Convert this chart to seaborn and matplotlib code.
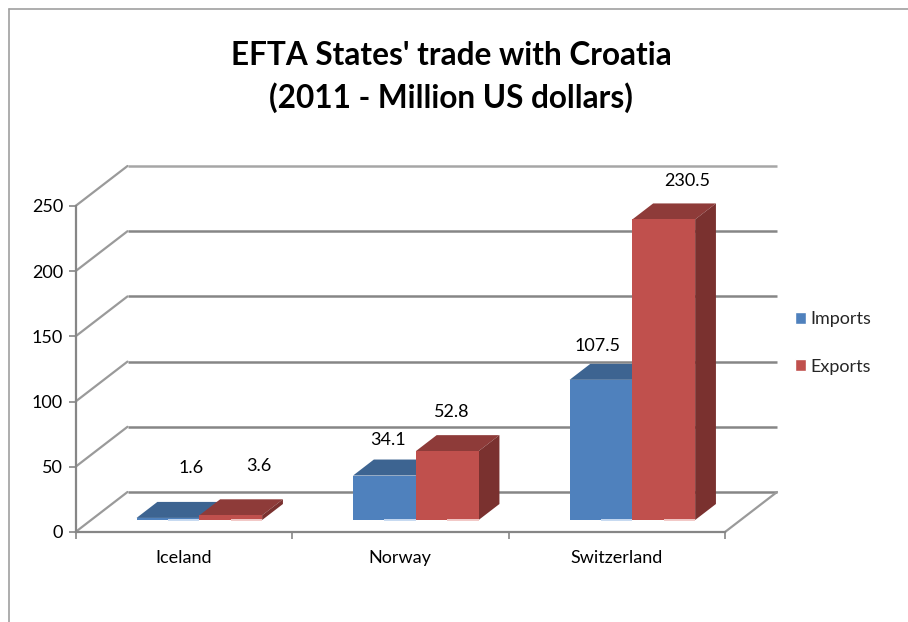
import seaborn as sns
import matplotlib.pyplot as plt
import pandas as pd
from matplotlib.lines import Line2D
from matplotlib.patches import Polygon, Patch

paises = ["Iceland", "Norway", "Switzerland"]
imports = [1.6, 34.1, 107.5]
exports = [3.6, 52.8, 230.5]
y_ticks = [0, 50, 100, 150, 200, 250]
titulo = "EFTA States' trade with Croatia\n(2011 - Million US dollars)"

W, H = 908, 622
GRIS = "#868686"
colores = {"Imports": ("#4f81bd", "#3d6491", "#c6d9f1"),
           "Exports": ("#c0504d", "#8e3b39", "#f2c8c6")}
lado_colores = {"Imports": "#345478", "Exports": "#7a312f"}

# profundidad de la pared en unidades de datos (3D falso)
PX_X = (725 - 75.5) / 3
PX_Y = (532 - 206) / 250
pared_x = 52 / PX_X
pared_y = 40 / PX_Y
frente = 0.3   # donde empieza la barra dentro del piso
fondo = 0.4    # profundidad de la barra

sns.set_theme(style="white")
plt.rcParams["font.family"] = ["Lato", "DejaVu Sans"]

fig = plt.figure(figsize=(W / 100, H / 100), dpi=100, facecolor="white")
ax = fig.add_axes([75.5 / W, 1 - 532 / H, (725 - 75.5) / W, (532 - 206) / H])

df = pd.DataFrame({
    "pais": paises * 2,
    "tipo": ["Imports"] * 3 + ["Exports"] * 3,
    "valor": imports + exports,
})
sns.barplot(data=df, x="pais", y="valor", hue="tipo", ax=ax, width=0.58, errorbar=None,
            palette={k: v[0] for k, v in colores.items()}, saturation=1, legend=False,
            linewidth=0)

ax.set_xlim(-0.5, 2.5)
ax.set_ylim(0, 250)
ax.set_xlabel("")
ax.set_ylabel("")

# paredes y lineas de fondo
for v in y_ticks:
    c = "#a6a6a6" if v == 250 else GRIS
    ax.plot([-0.5 + pared_x, 2.5 + pared_x], [v + pared_y, v + pared_y], color=c, lw=1.8,
            clip_on=False, zorder=1, solid_capstyle="butt")
    ax.plot([-0.5, -0.5 + pared_x], [v, v + pared_y], color="#9a9a9a", lw=1.6,
            clip_on=False, zorder=1)
ax.plot([2.5, 2.5 + pared_x], [0, pared_y], color="#9a9a9a", lw=1.6, clip_on=False, zorder=1)

# barras con cara superior y lateral
offsets = {"Imports": [(23, 50), (4, 36), (-3, 34)], "Exports": [(28, 49), (4, 39), (23, 38)]}
for orden, (tipo, cont) in enumerate(zip(["Imports", "Exports"], ax.containers)):
    z = 3 + orden
    color, arriba, claro = colores[tipo]
    for i, bar in enumerate(cont):
        bar.set_x(bar.get_x() + pared_x * frente)
        bar.set_y(pared_y * frente)
        bar.set_zorder(z + 0.2)
        bar.set_clip_on(False)
        x0 = bar.get_x()
        x1 = x0 + bar.get_width()
        y0 = bar.get_y()
        y1 = y0 + bar.get_height()
        dx = pared_x * fondo
        dy = pared_y * fondo
        ax.add_patch(Polygon([(x0, y1), (x1, y1), (x1 + dx, y1 + dy), (x0 + dx, y1 + dy)],
                             facecolor=arriba, edgecolor="none", clip_on=False, zorder=z))
        ax.add_patch(Polygon([(x1, y0), (x1, y1), (x1 + dx, y1 + dy), (x1 + dx, y0 + dy)],
                             facecolor=lado_colores[tipo], edgecolor="none", clip_on=False, zorder=z))
        ax.plot([(x0 + x1) / 2, x1], [y0, y0], color=claro, lw=1.4, clip_on=False,
                zorder=z + 0.3, solid_capstyle="butt")
        ax.annotate(str(bar.get_height()), ((x0 + x1) / 2, y1), xytext=offsets[tipo][i],
                    textcoords="offset pixels", ha="center", va="center", fontsize=13,
                    color="black", annotation_clip=False, zorder=6)

# ejes
sns.despine(ax=ax)
for s in ["left", "bottom"]:
    ax.spines[s].set_color(GRIS)
    ax.spines[s].set_linewidth(1.6)
ax.set_yticks(y_ticks)
ax.set_xticks([-0.5, 0.5, 1.5, 2.5])
ax.set_xticklabels([])
ax.set_xticks([0, 1, 2], labels=paises, minor=True)
ax.tick_params(axis="y", left=True, length=5, width=1.2, color=GRIS, labelsize=13, pad=4, labelcolor="black")
ax.tick_params(axis="x", which="major", bottom=True, length=5, width=1.2, color=GRIS)
ax.tick_params(axis="x", which="minor", bottom=False, length=0, labelsize=13, pad=13, labelcolor="black")

# leyenda
handles = [Patch(facecolor=colores[t][0], label=t) for t in ["Imports", "Exports"]]
fig.legend(handles=handles, loc="center left", bbox_to_anchor=(779 / W, 1 - 343 / H), frameon=False,
           fontsize=13, handlelength=0.62, handleheight=0.62, handletextpad=0.2, labelspacing=1.72)

fig.text(451 / W, 1 - 77 / H, titulo, ha="center", va="center", fontsize=22.7, fontweight="bold",
         color="black", linespacing=1.5)

# marco del grafico
fig.add_artist(Line2D([8.5 / W, 8.5 / W], [0, 1 - 8.5 / H], color="#a0a0a0", lw=1.2))
fig.add_artist(Line2D([8.5 / W, 1], [1 - 8.5 / H, 1 - 8.5 / H], color="#a0a0a0", lw=1.2))

fig.savefig("out.png", dpi=100, facecolor="white")
